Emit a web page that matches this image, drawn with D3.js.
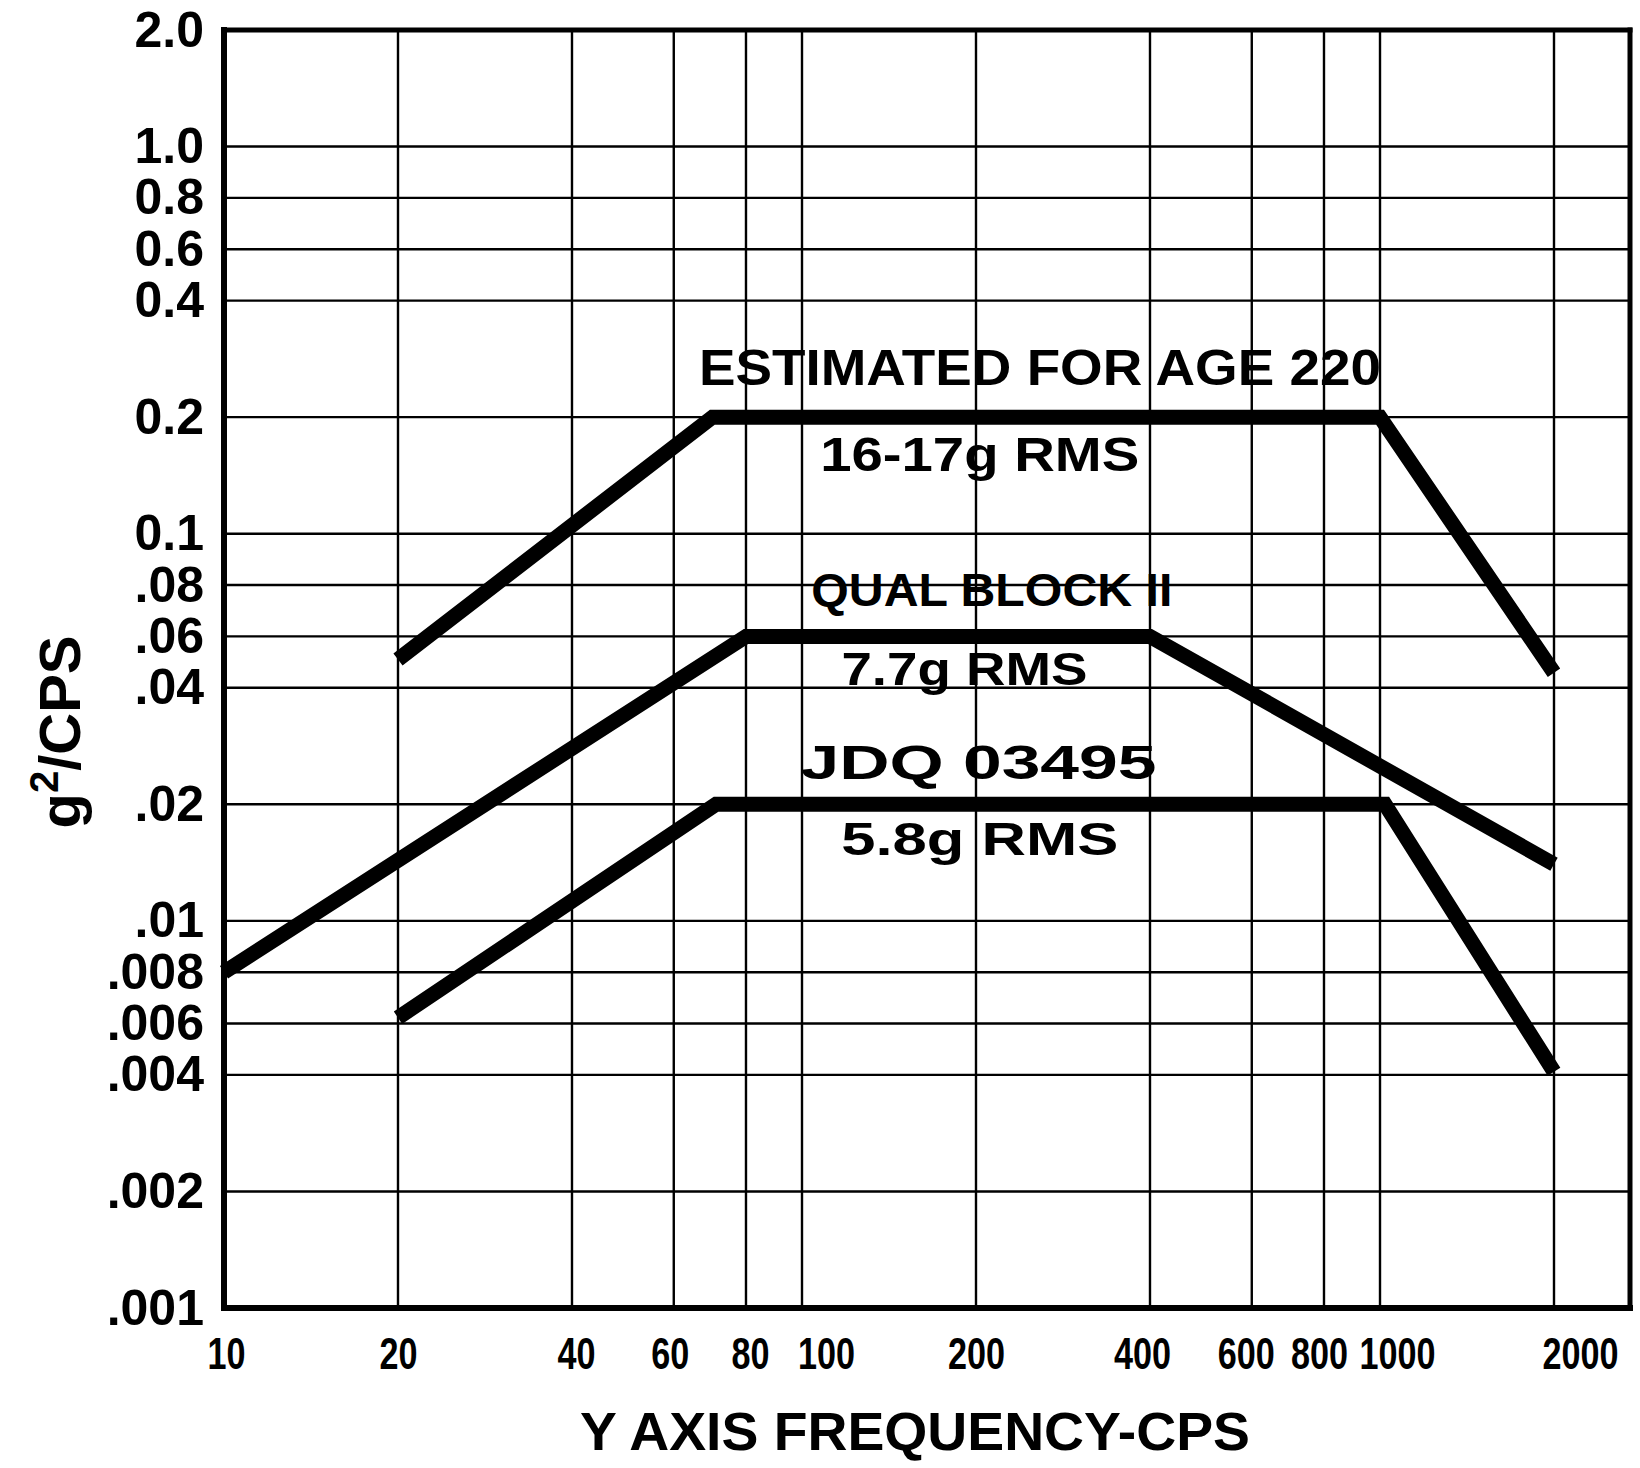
<!DOCTYPE html>
<html>
<head>
<meta charset="utf-8">
<script src="https://cdn.jsdelivr.net/npm/d3@7.9.0/dist/d3.min.js"></script>
<style>
  body { margin: 0; background: #fff; }
  svg { display: block; font-family: 'Liberation Sans', Arial, sans-serif; font-weight: bold; }
</style>
</head>
<body>
<svg width="1640" height="1468"></svg>
<script>
// tick values and labels
const freqTicks = [10, 20, 40, 60, 80, 100, 200, 400, 600, 800, 1000, 2000];
const freqLabels = ['10', '20', '40', '60', '80', '100', '200', '400', '600', '800', '1000', '2000'];
const psdTicks = [2.0, 1.0, 0.8, 0.6, 0.4, 0.2, 0.1, 0.08, 0.06, 0.04, 0.02, 0.01, 0.008, 0.006, 0.004, 0.002, 0.001];
const psdLabels = ['2.0', '1.0', '0.8', '0.6', '0.4', '0.2', '0.1', '.08', '.06', '.04', '.02', '.01', '.008', '.006', '.004', '.002', '.001'];

// spectra (freq in cps, g^2/cps)
const estFreq = [20, 70, 1000, 2000];
const estValue = [0.05, 0.2, 0.2, 0.045];
const qualFreq = [10, 80, 400, 2000];
const qualValue = [0.008, 0.06, 0.06, 0.014];
const jdqFreq = [20, 71, 1020, 2000];
const jdqValue = [0.0062, 0.02, 0.02, 0.0041];

// hand lettered notes, anchored at (freq, value)
const noteText = ['ESTIMATED  FOR AGE 220', '16-17g RMS', 'QUAL BLOCK II', '7.7g RMS', 'JDQ 03495', '5.8g RMS'];
const noteFreq = [258, 203, 213, 191, 202, 203];
const noteValue = [0.242, 0.1454, 0.071, 0.041, 0.0233, 0.0148];

const plotTop = 30, plotBottom = 1308, plotRight = 1630;

const svg = d3.select('svg');

const x = d3.scaleLog().domain([10, 2000]).range([224, 1554]);
const plotLeft = x(10);

// the paper spaces the 8 and 6 lines evenly between the 1 and 4 lines of each decade
const base = d3.scaleLog().domain([0.001, 2]).range([plotBottom, plotTop]);
const tickPos = psdTicks.map((v) => {
  const k = Math.pow(10, Math.floor(Math.log10(v) + 1e-9));
  const m = Math.round(v / k);
  if (m !== 8 && m !== 6) return base(v);
  const one = base(10 * k);
  const four = base(4 * k);
  return one + ((10 - m) / 6) * (four - one);
});
const y = d3.scaleLog().domain(psdTicks).range(tickPos);

// grid
const grid = svg.append('g').attr('stroke', '#000').attr('stroke-width', 2.4);
grid.selectAll('line.v')
  .data(freqTicks.slice(1))
  .join('line')
  .attr('class', 'v')
  .attr('x1', (d) => x(d)).attr('x2', (d) => x(d))
  .attr('y1', plotTop).attr('y2', plotBottom);
grid.selectAll('line.h')
  .data(psdTicks.slice(1, -1))
  .join('line')
  .attr('class', 'h')
  .attr('x1', plotLeft).attr('x2', plotRight)
  .attr('y1', (d) => y(d)).attr('y2', (d) => y(d));

// frame
const frame = svg.append('g').attr('stroke', '#000').attr('stroke-linecap', 'square');
frame.append('line').attr('x1', plotLeft).attr('x2', plotLeft).attr('y1', plotTop).attr('y2', plotBottom).attr('stroke-width', 6);
frame.append('line').attr('x1', plotLeft).attr('x2', plotRight).attr('y1', plotBottom).attr('y2', plotBottom).attr('stroke-width', 6);
frame.append('line').attr('x1', plotLeft).attr('x2', plotRight).attr('y1', plotTop).attr('y2', plotTop).attr('stroke-width', 5);
frame.append('line').attr('x1', plotRight).attr('x2', plotRight).attr('y1', plotTop).attr('y2', plotBottom).attr('stroke-width', 5);

// axes labels
const yAxis = d3.axisLeft(y)
  .tickValues(psdTicks)
  .tickFormat((d, i) => psdLabels[i])
  .tickSize(0)
  .tickPadding(20);
svg.append('g')
  .attr('transform', `translate(${plotLeft},0)`)
  .call(yAxis)
  .call((g) => g.select('.domain').remove())
  .selectAll('text')
  .attr('font-size', 50)
  .attr('font-family', "'Liberation Sans', Arial, sans-serif")
  .attr('font-weight', 'bold')
  .attr('fill', '#000');

// hand placed label nudges along the crowded x axis
const xNudge = { 10: 2, 40: 4, 60: -4, 80: 4, 100: 24, 400: -8, 600: -6, 800: -5, 1000: 17, 2000: 26 };
const xAxis = d3.axisBottom(x)
  .tickValues(freqTicks)
  .tickFormat((d, i) => freqLabels[i])
  .tickSize(0)
  .tickPadding(30);
svg.append('g')
  .attr('transform', `translate(0,${plotBottom})`)
  .call(xAxis)
  .call((g) => g.select('.domain').remove())
  .selectAll('text')
  .attr('font-size', 44)
  .attr('font-family', "'Liberation Sans', Arial, sans-serif")
  .attr('font-weight', 'bold')
  .attr('fill', '#000')
  .attr('textLength', (d, i) => freqLabels[i].length * 19)
  .attr('lengthAdjust', 'spacingAndGlyphs')
  .attr('dx', (d) => xNudge[d] || 0);

// spectra
const line = d3.line()
  .x((d) => x(d[0]))
  .y((d) => y(d[1]));

const series = [
  d3.zip(estFreq, estValue),
  d3.zip(qualFreq, qualValue),
  d3.zip(jdqFreq, jdqValue)
];

svg.append('g')
  .selectAll('path')
  .data(series)
  .join('path')
  .attr('d', line)
  .attr('fill', 'none')
  .attr('stroke', '#000')
  .attr('stroke-width', 15)
  .attr('stroke-linejoin', 'miter');

// notes
const noteLayout = [
  { w: 682, size: 50 },
  { w: 319, size: 48 },
  { w: 361, size: 46 },
  { w: 246, size: 46 },
  { w: 356, size: 48 },
  { w: 277, size: 46 }
];

svg.append('g')
  .selectAll('text')
  .data(noteText)
  .join('text')
  .attr('x', (d, i) => x(noteFreq[i]))
  .attr('y', (d, i) => y(noteValue[i]))
  .attr('text-anchor', 'middle')
  .attr('font-size', (d, i) => noteLayout[i].size)
  .attr('textLength', (d, i) => noteLayout[i].w)
  .attr('lengthAdjust', 'spacingAndGlyphs')
  .attr('fill', '#000')
  .text((d) => d);

// axis titles
svg.append('text')
  .attr('x', 915)
  .attr('y', 1450)
  .attr('text-anchor', 'middle')
  .attr('font-size', 54)
  .attr('textLength', 670)
  .attr('lengthAdjust', 'spacingAndGlyphs')
  .text('Y  AXIS  FREQUENCY-CPS');

const yTitle = svg.append('text')
  .attr('transform', 'translate(80,732) rotate(-90)')
  .attr('text-anchor', 'middle')
  .attr('font-size', 58);
yTitle.append('tspan').text('g');
yTitle.append('tspan').attr('dy', -22).attr('font-size', 40).text('2');
yTitle.append('tspan').attr('dy', 22).text('/CPS');
</script>
</body>
</html>
